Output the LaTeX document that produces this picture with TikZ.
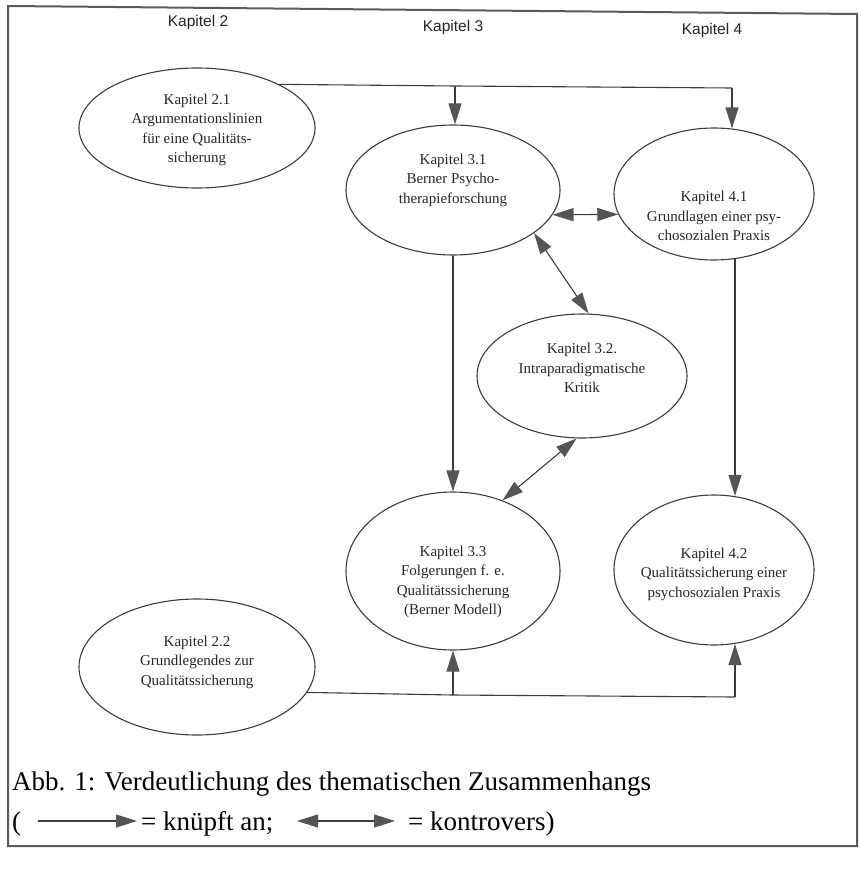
\documentclass[tikz,border=0pt]{standalone}
\usepackage{fontspec}
\setmainfont{Liberation Serif}
\newfontfamily\headfont{Liberation Sans}
\usetikzlibrary{shapes.geometric,arrows.meta,calc}
\definecolor{ink}{HTML}{3C3C3C}
\definecolor{tipgray}{HTML}{555555}
\definecolor{framegray}{HTML}{5A5A5A}
\begin{document}
\begin{tikzpicture}[x=1pt,y=-1pt,
  chap/.style={ellipse, draw=ink, line width=1.1pt, inner sep=0pt},
  chaptext/.style={align=center, font=\fontsize{15}{19.5}\selectfont, text=black!85},
  head/.style={font=\headfont\fontsize{15.5}{17}\selectfont, text=black!85},
  link/.style={draw=ink, line width=1.1pt},
  tip/.style={-{Triangle[length=21pt,width=13pt,color=tipgray]}},
  both/.style={{Triangle[length=21pt,width=13pt,color=tipgray]}-{Triangle[length=21pt,width=13pt,color=tipgray]}},
  captext/.style={anchor=base west, inner sep=0pt, font=\fontsize{27}{30}\selectfont},
]
\useasboundingbox (0,0) rectangle (860,872);

% frame
\draw[framegray, line width=2pt] (8,6) -- (857,14) -- (857,846) -- (8,846) -- cycle;

% column headings
\node[head] (k2) at (198,22) {Kapitel 2};
\node[head] (k3) at (453,27) {Kapitel 3};
\node[head] (k4) at (712,30) {Kapitel 4};

% chapter ellipses
\node[chap, minimum width=236pt, minimum height=120pt] (e21) at (197,128) {};
\node[chap, minimum width=214pt, minimum height=130pt] (e31) at (453,190) {};
\node[chap, minimum width=200pt, minimum height=132pt] (e41) at (714,194) {};
\node[chap, minimum width=210pt, minimum height=124pt] (e32) at (582,376) {};
\node[chap, minimum width=214pt, minimum height=158pt] (e33) at (453,571) {};
\node[chap, minimum width=200pt, minimum height=150pt] (e42) at (714,570) {};
\node[chap, minimum width=236pt, minimum height=136pt] (e22) at (197,667) {};

% chapter titles
\node[chaptext] (t21) at (197,130) {Kapitel 2.1\\Argumentationslinien\\für eine Qualitäts-\\sicherung};
\node[chaptext] (t31) at (453,180) {Kapitel 3.1\\Berner Psycho-\\therapieforschung};
\node[chaptext] (t41) at (714,216) {Kapitel 4.1\\Grundlagen einer psy-\\chosozialen Praxis};
\node[chaptext] (t32) at (582,368) {Kapitel 3.2.\\Intraparadigmatische\\Kritik};
\node[chaptext] (t33) at (453,582) {Kapitel 3.3\\Folgerungen f. e.\\Qualitätssicherung\\(Berner Modell)};
\node[chaptext] (t42) at (714,574) {Kapitel 4.2\\Qualitätssicherung einer\\psychosozialen Praxis};
\node[chaptext] (t22) at (197,662) {Kapitel 2.2\\Grundlegendes zur\\Qualitätssicherung};

% upper distribution line from 2.1
\coordinate (ta) at (455,86);
\coordinate (tb) at (732,88);
\draw[link] (e21.28) -- (ta) -- (tb);
\draw[link,tip] (ta) -- (ta |- e31.north);
\draw[link,tip] (tb) -- ($(tb |- e41.north)+(0,1)$);

% links inside chapters 3 and 4
\draw[link,both] (e31.-14) -- (e41.192);
\draw[link,tip] (e31.south) -- (e33.north);
\draw[link,both] (e31.-28) -- (e32.84);
\draw[link,both] (e32.-95) -- (e33.55);
\draw[link,tip] ($(e41.south)+(21,-1.5)$) -- ($(e42.north)+(21,1.5)$);

% lower distribution line from 2.2
\coordinate (ba) at (453,695);
\coordinate (bb) at (735,697);
\draw[link] (e22.-13) -- (ba) -- (bb);
\draw[link,tip] (ba) -- (ba |- e33.south);
\draw[link,tip] (bb) -- ($(bb |- e42.south)+(0,-1.5)$);

% caption and legend
\node[captext] (cap) at (12,790) {Abb. 1: Verdeutlichung des thematischen Zusammenhangs};
\node[captext] (lpar) at (12,830) {(};
\coordinate (la) at (38,821);
\coordinate (lb) at (137,821);
\draw[link,tip] (la) -- (lb);
\node[captext] (kn) at (141,830) {= knüpft an;};
\coordinate (lc) at (297,821);
\coordinate (ld) at (395,821);
\draw[link,both] (lc) -- (ld);
\node[captext] (ko) at (408,830) {= kontrovers)};
\end{tikzpicture}
\end{document}
